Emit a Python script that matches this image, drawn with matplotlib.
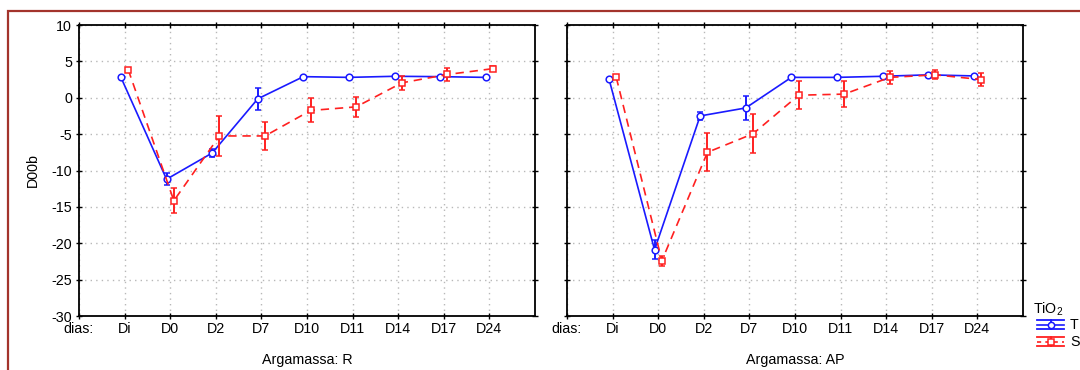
import matplotlib
matplotlib.use("Agg")
import matplotlib.pyplot as plt
from matplotlib.lines import Line2D
from matplotlib.patches import Rectangle
import numpy as np

plt.rcParams['font.family'] = ['Liberation Sans', 'DejaVu Sans']
plt.rcParams['mathtext.fontset'] = 'custom'
plt.rcParams['mathtext.rm'] = 'Liberation Sans'

# ---- data ----
days = ["Di", "D0", "D2", "D7", "D10", "D11", "D14", "D17", "D24"]
yticks = [-30, -25, -20, -15, -10, -5, 0, 5, 10]

# Argamassa R
r_T_mean = [2.8, -11.2, -7.6, -0.15, 2.9, 2.8, 2.95, 2.9, 2.8]
r_T_err = [0.15, 0.8, 0.6, 1.5, 0.15, 0.15, 0.15, 0.15, 0.15]
r_S_mean = [3.85, -14.15, -5.25, -5.25, -1.75, -1.25, 2.05, 3.2, 4.0]
r_S_err = [0.2, 1.7, 2.7, 1.9, 1.65, 1.35, 0.95, 0.9, 0.3]

# Argamassa AP
ap_T_mean = [2.6, -20.9, -2.5, -1.4, 2.8, 2.8, 2.95, 3.15, 3.0]
ap_T_err = [0.15, 1.3, 0.6, 1.6, 0.15, 0.15, 0.15, 0.15, 0.15]
ap_S_mean = [2.8, -22.4, -7.5, -4.95, 0.35, 0.5, 2.8, 3.15, 2.5]
ap_S_err = [0.2, 0.7, 2.6, 2.65, 1.95, 1.8, 0.9, 0.6, 0.9]

panels = [("Argamassa: R", r_T_mean, r_T_err, r_S_mean, r_S_err),
          ("Argamassa: AP", ap_T_mean, ap_T_err, ap_S_mean, ap_S_err)]

W, H = 1080, 370
fig = plt.figure(figsize=(W / 100, H / 100), dpi=100)
fig.patch.set_facecolor('white')
FS = 10.3

def fx(px):
    return px / W

def fy(py):
    return 1 - py / H

# dark red frame
fig.add_artist(Rectangle((fx(8), -0.1), 1.2, fy(11) + 0.1, transform=fig.transFigure,
                         fill=False, edgecolor='#a3342c', linewidth=1.6, clip_on=False))

blue = '#1a1aff'
red = '#ff2020'
axes_left = [79, 567]
axes_w = 456
top, bottom = 25, 316
xpos = np.arange(1, len(days) + 1)
off = 0.08

for i, (title, tm, te, sm, se) in enumerate(panels):
    ax = fig.add_axes([fx(axes_left[i]), fy(bottom), axes_w / W, (bottom - top) / H])
    ax.set_xlim(0, 10)
    ax.set_ylim(-30, 10)
    ax.set_xticks(np.arange(0, 10))
    ax.set_xticklabels(["dias:"] + days, fontsize=FS)
    ax.set_yticks(yticks)
    if i == 0:
        ax.set_yticklabels([str(v) for v in yticks], fontsize=FS)
    else:
        ax.set_yticklabels([])
    ax.tick_params(axis='both', direction='inout', length=4, width=1, pad=3,
                   top=True, right=True)
    ax.tick_params(axis='x', pad=2)
    ax.grid(True, linestyle=(0, (1, 3)), color='#b8b8b8', linewidth=1)
    for s in ax.spines.values():
        s.set_linewidth(1.3)
    ax.errorbar(xpos - off, tm, yerr=te, color=blue, lw=1.2, elinewidth=1.4,
                capsize=2.5, capthick=1.4, marker='o', markersize=4.8,
                markerfacecolor='white', markeredgecolor=blue, markeredgewidth=1.1,
                zorder=3)
    ax.errorbar(xpos + off, sm, yerr=se, color=red, lw=1.2, elinewidth=1.4,
                capsize=2.5, capthick=1.4, marker='s', markersize=5,
                markerfacecolor='white', markeredgecolor=red, markeredgewidth=1.1,
                linestyle=(0, (5, 3.5)), zorder=4)
    fig.text(fx(axes_left[i] + axes_w / 2), fy(360), title, ha='center', va='center',
             fontsize=FS)

fig.text(fx(33), fy(170), "D00b", rotation=90, ha='center', va='center', fontsize=FS)

# legend
fig.text(fx(1033), fy(309), "TiO$_2$", ha='left', va='center', fontsize=FS)

def legend_symbol(yc, color, dashed, marker):
    ls = (0, (2.5, 2.5)) if dashed else '-'
    fig.add_artist(Line2D([fx(1037), fx(1064)], [fy(yc - 4.5), fy(yc - 4.5)],
                          transform=fig.transFigure, color=color, lw=1.3))
    fig.add_artist(Line2D([fx(1037), fx(1064)], [fy(yc + 4.5), fy(yc + 4.5)],
                          transform=fig.transFigure, color=color, lw=1.3))
    fig.add_artist(Line2D([fx(1050.5), fx(1050.5)], [fy(yc - 4.5), fy(yc + 4.5)],
                          transform=fig.transFigure, color=color, lw=1.3))
    fig.add_artist(Line2D([fx(1037), fx(1064)], [fy(yc), fy(yc)],
                          transform=fig.transFigure, color=color, lw=1.2, linestyle=ls))
    fig.add_artist(Line2D([fx(1050.5)], [fy(yc)], transform=fig.transFigure,
                          marker=marker, markersize=4.5, markerfacecolor='white',
                          markeredgecolor=color, markeredgewidth=1.1, linestyle='none'))

legend_symbol(324.5, blue, False, 'o')
legend_symbol(341.5, red, True, 's')
fig.text(fx(1070), fy(325), "T", ha='left', va='center', fontsize=FS)
fig.text(fx(1070), fy(342), "S", ha='left', va='center', fontsize=FS)

fig.savefig("out.png", dpi=100)
